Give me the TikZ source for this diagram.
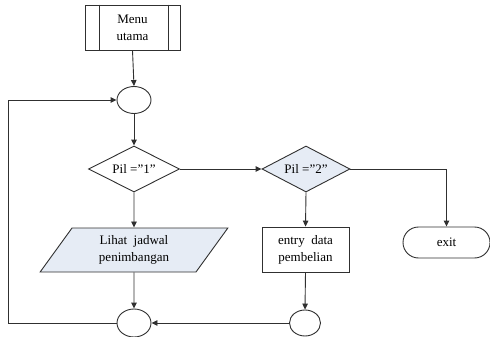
\documentclass[tikz,border=0pt]{standalone}
\usepackage{fontspec}
\setmainfont{Liberation Serif}
\usetikzlibrary{arrows.meta,shapes.geometric,shapes.misc,calc}
\definecolor{boxfill}{HTML}{E6ECF5}
\definecolor{edge}{HTML}{303030}
\begin{document}
\begin{tikzpicture}[x=1pt,y=-1pt,
  every node/.style={font=\fontsize{13}{17}\selectfont, align=center, inner sep=0pt, text=black},
  shapeline/.style={draw=edge, line width=0.9pt},
  joint/.style={shapeline, ellipse, fill=white},
  decision/.style={shapeline, diamond, aspect=2},
  flow/.style={draw=edge, line width=0.9pt, -{Triangle[length=6pt,width=5.5pt]}},
  plain/.style={draw=edge, line width=0.9pt}]
\useasboundingbox (0,0) rectangle (490,337);

% predefined process: main menu
\node[shapeline, rectangle, minimum width=95, minimum height=45] (menu) at (132.5,27.5) {Menu\\utama};
\draw[plain] ($(menu.north west)+(15,0)$) -- ($(menu.south west)+(15,0)$);
\draw[plain] ($(menu.north east)+(-12,0)$) -- ($(menu.south east)+(-12,0)$);

% connectors
\node[joint, minimum width=34, minimum height=27] (c1) at (134,100) {};
\node[joint, minimum width=34, minimum height=28] (c3) at (134,323) {};
\node[joint, minimum width=31, minimum height=26] (c4) at (305,323) {};

% decisions
\node[decision, minimum width=91, minimum height=46, fill=white] (d1) at (134,169) {Pil =''1''};
\node[decision, minimum width=88, minimum height=46, fill=boxfill] (d2) at (306,169) {Pil =''2''};

% input/output
\node[shapeline, trapezium, trapezium stretches=true, trapezium left angle=58, trapezium right angle=122,
      minimum width=188, minimum height=44, fill=boxfill] (para) at (134,250) {Lihat\ \ jadwal\\penimbangan};

% process
\node[shapeline, rectangle, minimum width=87, minimum height=45] (entry) at (305.5,249.5) {entry\ \ data\\pembelian};

% terminator
\node[shapeline, rounded rectangle, minimum width=87, minimum height=31] (exit) at (446.5,242.5) {exit};

\coordinate (lx) at (8,0);

\draw[flow] (menu.south) -- (c1.north);
\draw[flow] (c1.south) -- (d1.north);
\draw[flow] (d1.east) -- (d2.west);
\draw[flow] (d1.south) -- (para.north);
\draw[flow] (para.south) -- (c3.north);
\draw[flow] (d2.south) -- (entry.north);
\draw[flow] (entry.south) -- (c4.north);
\draw[flow] (d2.east) -| (exit.north);
\draw[flow] (c4.west) -- (c3.east);
\draw[flow] (c3.west) -- (c3.west -| lx) -- (c1.west -| lx) -- (c1.west);
\end{tikzpicture}
\end{document}
